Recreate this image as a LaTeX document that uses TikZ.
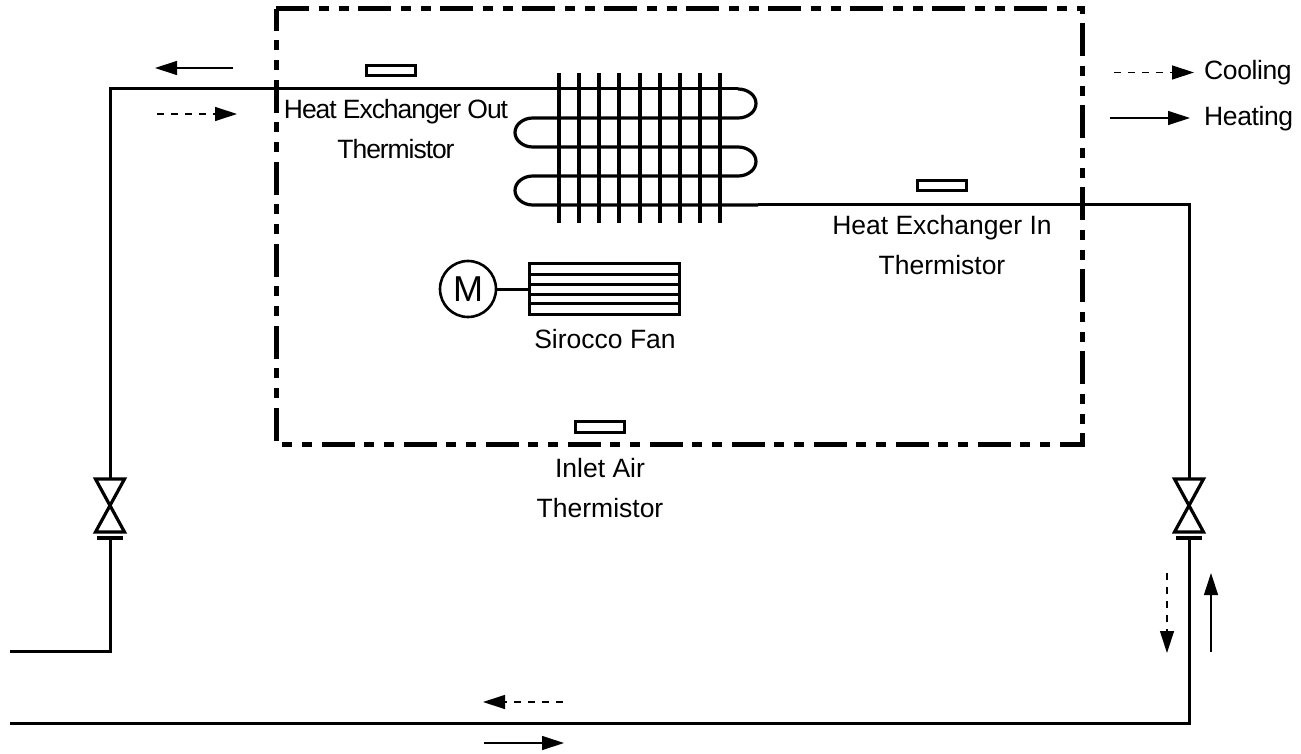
\documentclass[tikz,border=0pt]{standalone}
\usepackage{fontspec}
\setmainfont{Liberation Sans}
\newfontfamily\tightfont[LetterSpace=-4]{Liberation Sans}
\newfontfamily\legendfont[LetterSpace=-1.5]{Liberation Sans}
\usetikzlibrary{arrows.meta,calc}
\tikzset{
  pipe/.style={line width=3pt,line join=miter},
  fin/.style={line width=3.4pt},
  coil/.style={line width=3.2pt},
  housing/.style={line width=5pt,dash pattern=on 33pt off 10pt on 10pt off 10pt on 10pt off 9pt},
  sensor/.style={draw,line width=3pt,fill=white,minimum width=49pt,minimum height=10.5pt,inner sep=0pt},
  label/.style={align=center,inner sep=0pt,font=\fontsize{26.5}{40}\selectfont},
  tightlabel/.style={label,font=\fontsize{26.5}{40}\selectfont\tightfont},
  legendlabel/.style={anchor=west,inner sep=0pt,font=\fontsize{26.5}{30}\selectfont\legendfont},
  flow/.style={line width=1.2pt,-{Triangle[length=22pt,width=14pt]}},
  flowd/.style={flow,dash pattern=on 7pt off 7pt},
  valve/.style={line width=3.2pt,line join=miter},
}
\begin{document}
\begin{tikzpicture}[x=1pt,y=-1pt]
\useasboundingbox (0,0) rectangle (1301,754);
% housing
\coordinate (hTL) at (276,9);
\coordinate (hTR) at (1082,9);
\coordinate (hBR) at (1082,444);
\coordinate (hBL) at (276,444);
\draw[housing] (hTL) -- (hTR) -- (hBR) -- (hBL) -- cycle;
% pipes
\coordinate (a0) at (10,651);
\coordinate (a1) at (110,651);
\coordinate (a2) at (110,89);
\coordinate (c1) at (738,89);
\coordinate (lvT) at (110,479);
\coordinate (lvB) at (110,532);
\coordinate (lvS) at (110,538);
\coordinate (rvT) at (1189,479);
\coordinate (rvB) at (1189,532);
\coordinate (rvS) at (1189,538);
\coordinate (b0) at (10,723);
\coordinate (b1) at (1189,723);
\coordinate (b2) at (1189,205);
\coordinate (b3) at (758,205);
\draw[pipe] (a0) -- (a1) -- (lvS);
\draw[pipe] (lvT) -- (a2) -- (c1);
\draw[pipe] (b0) -- (b1) -- (rvS);
\draw[pipe] (rvT) -- (b2) -- (b3);
% valves
\foreach \n in {lv,rv}{
  \draw[valve] ($(\n T)+(-14.5,0)$) -- ($(\n T)+(14.5,0)$) -- ($(\n B)+(-14.5,0)$) -- ($(\n B)+(14.5,0)$) -- cycle;
  \draw[valve] ($(\n S)+(-13,0)$) -- ($(\n S)+(13,0)$);
}
% coil
\draw[coil] (738,89) arc[start angle=-90,end angle=90,x radius=18,y radius=14.5]
  -- (533,118) arc[start angle=-90,end angle=-270,x radius=18,y radius=14.5]
  -- (738,147) arc[start angle=-90,end angle=90,x radius=18,y radius=14.5]
  -- (533,176) arc[start angle=-90,end angle=-270,x radius=18,y radius=14.5]
  -- (758,205);
\foreach \x in {559,579,599,619,640,660,680,700,720}
  \draw[fin] (\x,73) -- (\x,223);
% motor and fan
\node[circle,draw,line width=2.6pt,minimum size=56pt,inner sep=0pt,font=\fontsize{36}{40}\selectfont] (motor) at (468,289) {M};
\node[draw,line width=3pt,minimum width=149.5pt,minimum height=50.5pt,inner sep=0pt,anchor=north west] (fan) at (528.3,262.3) {};
\draw[line width=3pt] (motor.east) -- (motor.east -| fan.west);
\foreach \y in {274,284,294,303}
  \draw[line width=3pt] (fan.west |- 0,\y) -- (fan.east |- 0,\y);
% sensors
\node[sensor] (s1) at (391,70.5) {};
\node[sensor] (s2) at (942,185.5) {};
\node[sensor] (s3) at (600,427) {};
% labels
\node[tightlabel] (t1) at (396,129) {Heat Exchanger Out\\Thermistor};
\node[label] (t2) at (942,245) {Heat Exchanger In\\Thermistor};
\node[label] (t3) at (600,488) {Inlet Air\\Thermistor};
\node[label] (t4) at (605,339) {Sirocco Fan};
\node[legendlabel] (t5) at (1204,73) {Cooling};
\node[legendlabel] (t6) at (1204,119) {Heating};
% flow arrows
\coordinate (f1a) at (233,68); \coordinate (f1b) at (155,68);
\coordinate (f2a) at (157,114); \coordinate (f2b) at (237,114);
\coordinate (f3a) at (1114,72.5); \coordinate (f3b) at (1194,72.5);
\coordinate (f4a) at (1110,118); \coordinate (f4b) at (1190,118);
\coordinate (f5a) at (1167,573); \coordinate (f5b) at (1167,653);
\coordinate (f6a) at (1211,652); \coordinate (f6b) at (1211,573);
\coordinate (f7a) at (563,702); \coordinate (f7b) at (483,702);
\coordinate (f8a) at (484,743); \coordinate (f8b) at (564,743);
\draw[flow] (f1a) -- (f1b);
\draw[flowd] (f2a) -- (f2b);
\draw[flowd] (f3a) -- (f3b);
\draw[flow] (f4a) -- (f4b);
\draw[flowd] (f5a) -- (f5b);
\draw[flow] (f6a) -- (f6b);
\draw[flowd] (f7a) -- (f7b);
\draw[flow] (f8a) -- (f8b);
\end{tikzpicture}
\end{document}
